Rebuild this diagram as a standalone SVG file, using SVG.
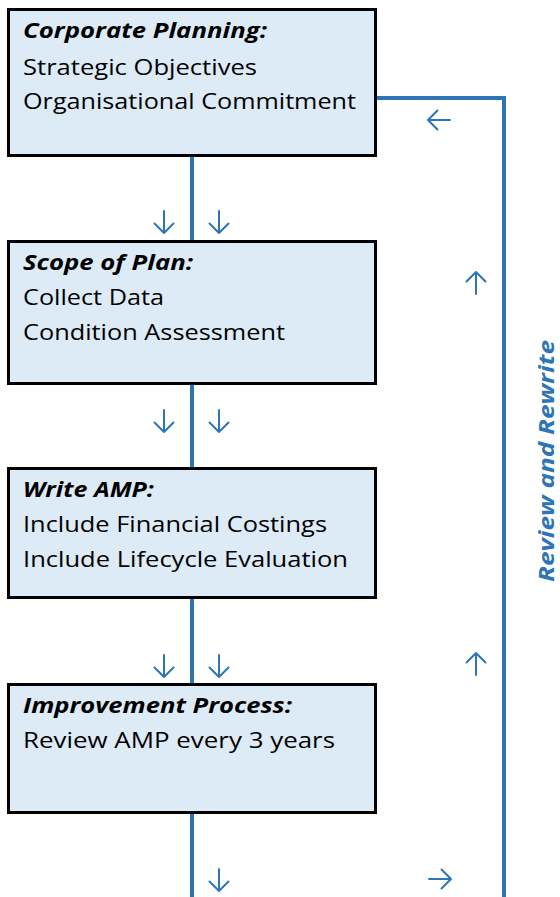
<svg xmlns="http://www.w3.org/2000/svg" xmlns:xlink="http://www.w3.org/1999/xlink" width="560" height="897" viewBox="0 0 560 897">
  <style>
    .box { fill: #DDEBF7; stroke: #000; stroke-width: 3; }
    .t { font-family: "Open Sans", Lato, "Liberation Sans", sans-serif; font-size: 22px; fill: #000; }
    .h { font-weight: bold; font-style: italic; }
    .link { fill: none; stroke: #2E75B6; stroke-width: 4; }
    .arr { fill: none; stroke: #2E75B6; stroke-width: 2; stroke-linecap: round; stroke-linejoin: round; }
    .side { font-family: "Open Sans", Lato, "Liberation Sans", sans-serif; font-size: 22px; font-weight: bold; font-style: italic; fill: #2E75B6; }
  </style>
  <defs>
    <!-- small downward arrow, centred on the origin -->
    <path id="down" d="M0,-11 V11 M-9.5,1.5 L0,11 L9.5,1.5"/>
  </defs>

  <g id="connectors">
    <line class="link" x1="192" y1="157" x2="192" y2="897"/>
    <polyline class="link" points="377,98 504,98 504,897"/>
    <g class="arr">
      <use xlink:href="#down" transform="translate(164,222)"/>
      <use xlink:href="#down" transform="translate(219,222)"/>
      <use xlink:href="#down" transform="translate(164,421)"/>
      <use xlink:href="#down" transform="translate(219,421)"/>
      <use xlink:href="#down" transform="translate(164,666)"/>
      <use xlink:href="#down" transform="translate(219,666)"/>
      <use xlink:href="#down" transform="translate(219,880)"/>
      <use xlink:href="#down" transform="translate(439,120) rotate(90)"/>
      <use xlink:href="#down" transform="translate(440,879) rotate(-90)"/>
      <use xlink:href="#down" transform="translate(476,283) rotate(180)"/>
      <use xlink:href="#down" transform="translate(476,664) rotate(180)"/>
    </g>
    <text class="side" transform="translate(554,461) rotate(-90)" text-anchor="middle" textLength="242" lengthAdjust="spacingAndGlyphs">Review and Rewrite</text>
  </g>

  <g id="corporate-planning">
    <rect class="box" x="8.5" y="9.5" width="367" height="146"/>
    <text class="t h" x="23" y="38" textLength="244" lengthAdjust="spacingAndGlyphs">Corporate Planning:</text>
    <text class="t" x="23" y="75" textLength="234" lengthAdjust="spacingAndGlyphs">Strategic Objectives</text>
    <text class="t" x="23" y="109" textLength="333" lengthAdjust="spacingAndGlyphs">Organisational Commitment</text>
  </g>

  <g id="scope-of-plan">
    <rect class="box" x="8.5" y="241.5" width="367" height="142"/>
    <text class="t h" x="23" y="270" textLength="170" lengthAdjust="spacingAndGlyphs">Scope of Plan:</text>
    <text class="t" x="23" y="305" textLength="141" lengthAdjust="spacingAndGlyphs">Collect Data</text>
    <text class="t" x="23" y="340" textLength="262" lengthAdjust="spacingAndGlyphs">Condition Assessment</text>
  </g>

  <g id="write-amp">
    <rect class="box" x="8.5" y="468.5" width="367" height="129"/>
    <text class="t h" x="23" y="497" textLength="131" lengthAdjust="spacingAndGlyphs">Write AMP:</text>
    <text class="t" x="23" y="532" textLength="304" lengthAdjust="spacingAndGlyphs">Include Financial Costings</text>
    <text class="t" x="23" y="567" textLength="325" lengthAdjust="spacingAndGlyphs">Include Lifecycle Evaluation</text>
  </g>

  <g id="improvement-process">
    <rect class="box" x="8.5" y="684.5" width="367" height="128"/>
    <text class="t h" x="23" y="713" textLength="269" lengthAdjust="spacingAndGlyphs">Improvement Process:</text>
    <text class="t" x="23" y="748" textLength="312" lengthAdjust="spacingAndGlyphs">Review AMP every 3 years</text>
  </g>
</svg>
